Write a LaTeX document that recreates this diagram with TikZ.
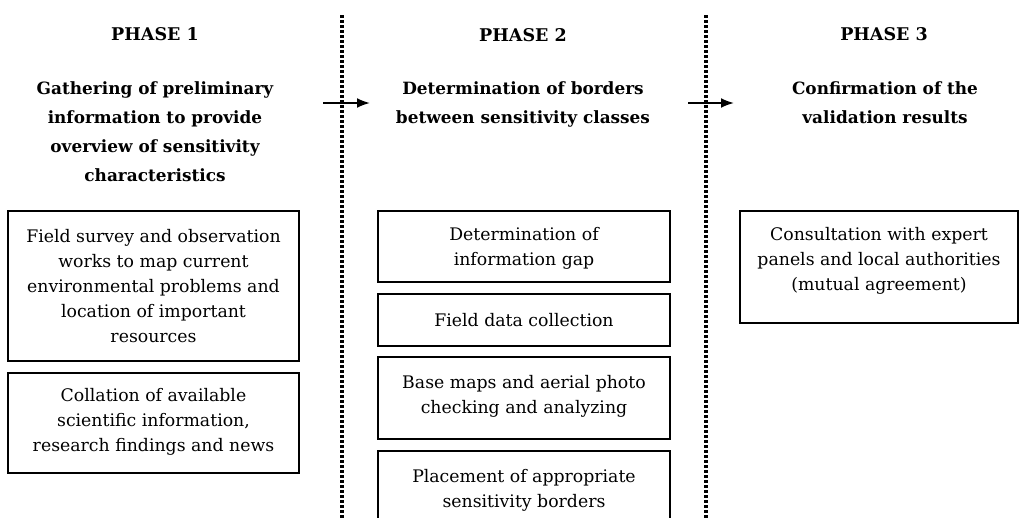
\documentclass[tikz,border=0pt]{standalone}
\usepackage{fontspec}
\setmainfont{DejaVu Serif}
\usetikzlibrary{arrows.meta}
\begin{document}
\begin{tikzpicture}[x=1pt,y=-1pt,
  boxtext/.style={font=\fontsize{17.3}{25}\selectfont, align=center},
  head/.style={font=\bfseries\fontsize{17.5}{20}\selectfont, align=center},
  sub/.style={font=\bfseries\fontsize{16.9}{29}\selectfont, align=center},
  frame/.style={draw, line width=1.8pt},
  sep/.style={line width=3.2pt, dash pattern=on 3pt off 2pt},
  flow/.style={line width=2pt, -{Latex[length=13pt,width=10pt]}}]
\useasboundingbox (0,0) rectangle (1019,517);
\begin{scope}
\clip (0,0) rectangle (1019,517);
% separators
\coordinate (s1t) at (342,15); \coordinate (s1b) at (342,520);
\coordinate (s2t) at (706,15); \coordinate (s2b) at (706,520);
\draw[sep] (s1t) -- (s1b);
\draw[sep] (s2t) -- (s2b);
% arrows
\coordinate (a1s) at (323,103); \coordinate (a1e) at (370,103);
\coordinate (a2s) at (688,103); \coordinate (a2e) at (734,103);
\draw[flow] (a1s) -- (a1e);
\draw[flow] (a2s) -- (a2e);
% headers
\node[head] (h1) at (155,34) {PHASE 1};
\node[head] (h2) at (523,35) {PHASE 2};
\node[head] (h3) at (884,34) {PHASE 3};
\node[sub, anchor=north] (t1) at (155,78) {Gathering of preliminary\\information to provide\\overview of sensitivity\\characteristics};
\node[sub, anchor=north] (t2) at (523,78) {Determination of borders\\between sensitivity classes};
\node[sub, anchor=north] (t3) at (885,78) {Confirmation of the\\validation results};
% boxes phase 1
\draw[frame] (8,211) rectangle (299,361);
\node[boxtext] (b1a) at (153.5,286) {Field survey and observation\\works to map current\\environmental problems and\\location of important\\resources};
\draw[frame] (8,373) rectangle (299,473);
\node[boxtext] (b1b) at (153.5,422) {Collation of available\\scientific information,\\research findings and news};
% boxes phase 2
\draw[frame] (378,211) rectangle (670,282);
\node[boxtext] (b2a) at (524,248.5) {Determination of\\information gap};
\draw[frame] (378,294) rectangle (670,346);
\node[boxtext] (b2b) at (524,320) {Field data collection};
\draw[frame] (378,357) rectangle (670,439);
\node[boxtext] (b2c) at (524,396) {Base maps and aerial photo\\checking and analyzing};
\draw[frame] (378,451) rectangle (670,540);
\node[boxtext] (b2d) at (524,490) {Placement of appropriate\\sensitivity borders};
% box phase 3
\draw[frame] (740,211) rectangle (1018,323);
\node[boxtext] (b3) at (879,261) {Consultation with expert\\panels and local authorities\\(mutual agreement)};
\end{scope}
\end{tikzpicture}
\end{document}
